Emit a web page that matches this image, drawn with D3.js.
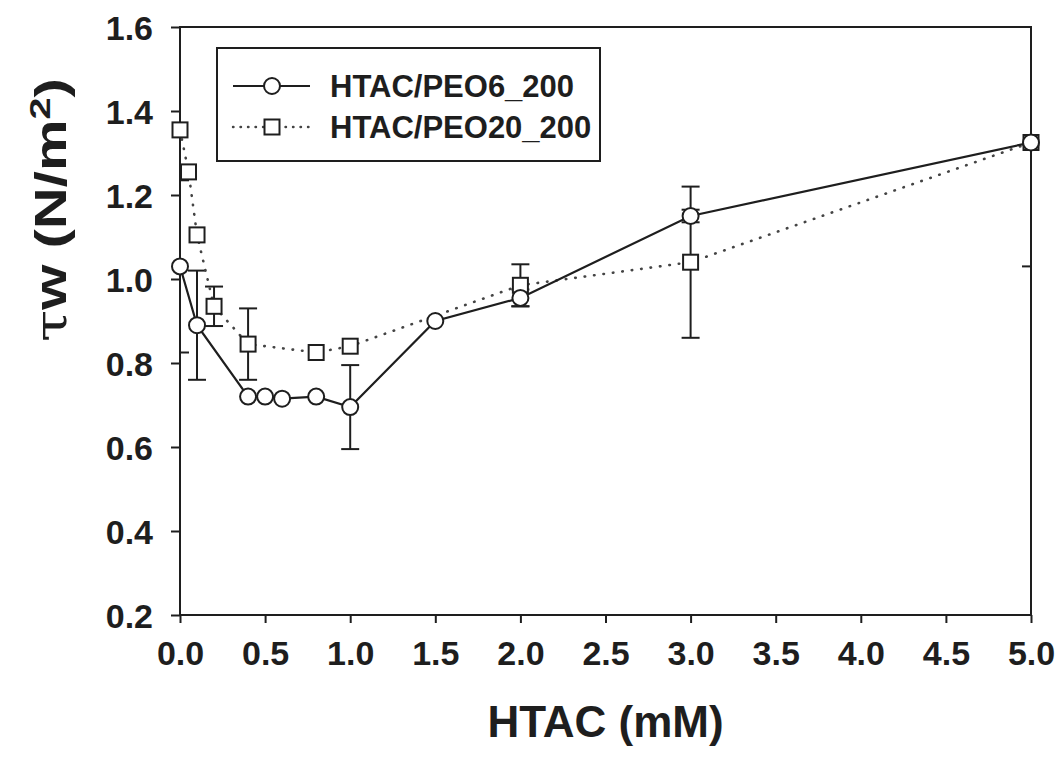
<!DOCTYPE html>
<html>
<head>
<meta charset="utf-8">
<script src="https://cdn.jsdelivr.net/npm/d3@7"></script>
<style>
  html, body { margin: 0; padding: 0; background: #fff; }
  svg { display: block; }
  text { font-family: "Liberation Sans", Arial, sans-serif; font-weight: bold; fill: #1e1e1e; }
</style>
</head>
<body>
<svg id="chart" width="1059" height="757"></svg>
<script>
// HTAC concentration (mM) and wall shear stress (N/m^2) for the two solutions
const peo6X   = [0, 0.1, 0.4, 0.5, 0.6, 0.8, 1.0, 1.5, 2.0, 3.0, 5.0];
const peo6Y   = [1.03, 0.89, 0.72, 0.72, 0.715, 0.72, 0.695, 0.90, 0.955, 1.15, 1.325];
const peo6Err = [0.205, 0.13, 0, 0, 0, 0, 0.10, 0, 0.02, 0.015, 0.295];

const peo20X   = [0, 0.05, 0.1, 0.2, 0.4, 0.8, 1.0, 2.0, 3.0, 5.0];
const peo20Y   = [1.355, 1.255, 1.105, 0.935, 0.845, 0.825, 0.84, 0.985, 1.04, 1.325];
const peo20Err = [0, 0, 0, 0.047, 0.085, 0, 0, 0.05, 0.18, 0];

const xTicks = [0, 0.5, 1.0, 1.5, 2.0, 2.5, 3.0, 3.5, 4.0, 4.5, 5.0];
const yTicks = [0.2, 0.4, 0.6, 0.8, 1.0, 1.2, 1.4, 1.6];

const seriesNames = ["HTAC/PEO6_200", "HTAC/PEO20_200"];

const svg = d3.select("#chart");
const ink = "#1e1e1e";

const plot = { left: 180, right: 1031, top: 27, bottom: 615 };
const x = d3.scaleLinear().domain([0, 5]).range([plot.left, plot.right]);
const y = d3.scaleLinear().domain([0.2, 1.6]).range([plot.bottom, plot.top]);

svg.append("defs").append("clipPath").attr("id", "plotClip")
  .append("rect")
  .attr("x", plot.left).attr("y", plot.top)
  .attr("width", plot.right - plot.left).attr("height", plot.bottom - plot.top);

// axes
const xAxis = d3.axisBottom(x).tickValues(xTicks).tickSize(8).tickPadding(10)
  .tickFormat(d3.format(".1f"));
const yAxis = d3.axisLeft(y).tickValues(yTicks).tickSize(9).tickPadding(18)
  .tickFormat(d3.format(".1f"));

const gx = svg.append("g").attr("transform", `translate(0,${plot.bottom})`).call(xAxis);
const gy = svg.append("g").attr("transform", `translate(${plot.left},0)`).call(yAxis);
[gx, gy].forEach(g => {
  g.select(".domain").remove();
  g.selectAll(".tick line").attr("stroke", ink).attr("stroke-width", 2);
  g.selectAll(".tick text")
    .attr("fill", ink)
    .style("font-size", "34px")
    .style("font-family", "'Liberation Sans', Arial, sans-serif")
    .style("font-weight", "bold");
});
gx.selectAll(".tick text").attr("dy", "0.95em");
gy.selectAll(".tick text").attr("dy", "0.36em");

// plot frame
svg.append("rect")
  .attr("x", plot.left).attr("y", plot.top)
  .attr("width", plot.right - plot.left).attr("height", plot.bottom - plot.top)
  .attr("fill", "none").attr("stroke", ink).attr("stroke-width", 2);

const layer = svg.append("g").attr("clip-path", "url(#plotClip)");
const markers = svg.append("g");

function drawErrors(xs, ys, es) {
  const capW = 9;
  xs.forEach((xv, i) => {
    if (!es[i]) return;
    const lo = y(ys[i] - es[i]), hi = y(ys[i] + es[i]), cx = x(xv);
    const g = layer.append("g").attr("stroke", ink).attr("stroke-width", 2);
    g.append("line").attr("x1", cx).attr("x2", cx).attr("y1", lo).attr("y2", hi);
    g.append("line").attr("x1", cx - capW).attr("x2", cx + capW).attr("y1", lo).attr("y2", lo);
    g.append("line").attr("x1", cx - capW).attr("x2", cx + capW).attr("y1", hi).attr("y2", hi);
  });
}

drawErrors(peo6X, peo6Y, peo6Err);
drawErrors(peo20X, peo20Y, peo20Err);

const line = d3.line().x(d => x(d[0])).y(d => y(d[1]));
const peo20Pts = peo20X.map((v, i) => [v, peo20Y[i]]);
const peo6Pts = peo6X.map((v, i) => [v, peo6Y[i]]);

layer.append("path").datum(peo20Pts).attr("d", line)
  .attr("fill", "none").attr("stroke", "#444").attr("stroke-width", 2.6)
  .attr("stroke-linecap", "round").attr("stroke-dasharray", "0.5,9");
layer.append("path").datum(peo6Pts).attr("d", line)
  .attr("fill", "none").attr("stroke", ink).attr("stroke-width", 2.2);

const half = 7.5;
markers.selectAll("rect.sq").data(peo20Pts).join("rect").attr("class", "sq")
  .attr("x", d => x(d[0]) - half).attr("y", d => y(d[1]) - half)
  .attr("width", half * 2).attr("height", half * 2)
  .attr("fill", "#fff").attr("stroke", ink).attr("stroke-width", 2);
markers.selectAll("circle.ci").data(peo6Pts).join("circle").attr("class", "ci")
  .attr("cx", d => x(d[0])).attr("cy", d => y(d[1])).attr("r", 8)
  .attr("fill", "#fff").attr("stroke", ink).attr("stroke-width", 2);

// legend
const leg = svg.append("g");
leg.append("rect").attr("x", 217).attr("y", 48).attr("width", 383).attr("height", 113)
  .attr("fill", "#fff").attr("stroke", ink).attr("stroke-width", 2);
const rows = [86, 127];
leg.append("line").attr("x1", 233).attr("x2", 310).attr("y1", rows[0]).attr("y2", rows[0])
  .attr("stroke", ink).attr("stroke-width", 2.2);
leg.append("circle").attr("cx", 272).attr("cy", rows[0]).attr("r", 8)
  .attr("fill", "#fff").attr("stroke", ink).attr("stroke-width", 2);
leg.append("line").attr("x1", 233).attr("x2", 310).attr("y1", rows[1]).attr("y2", rows[1])
  .attr("stroke", "#444").attr("stroke-width", 2.4)
  .attr("stroke-linecap", "round").attr("stroke-dasharray", "0.5,7");
leg.append("rect").attr("x", 272 - half).attr("y", rows[1] - half)
  .attr("width", half * 2).attr("height", half * 2)
  .attr("fill", "#fff").attr("stroke", ink).attr("stroke-width", 2);
seriesNames.forEach((name, i) => {
  leg.append("text").attr("x", 330).attr("y", rows[i] + 11)
    .style("font-size", "31px").text(name);
});

// axis titles
svg.append("text").attr("x", (plot.left + plot.right) / 2).attr("y", 737)
  .attr("text-anchor", "middle").style("font-size", "44px").text("HTAC (mM)");

// y title: wide lettering along the axis
const yt = svg.append("text")
  .attr("transform", "translate(66,210) rotate(-90) scale(1.32,1)")
  .attr("text-anchor", "middle").style("font-size", "44px");
yt.append("tspan").style("font-family", "'DejaVu Serif', serif").style("font-weight", "normal")
  .text("τ");
yt.append("tspan").text("w (N/m");
yt.append("tspan").attr("dy", -16).style("font-size", "30px").text("2");
yt.append("tspan").attr("dy", 16).text(")");
</script>
</body>
</html>
